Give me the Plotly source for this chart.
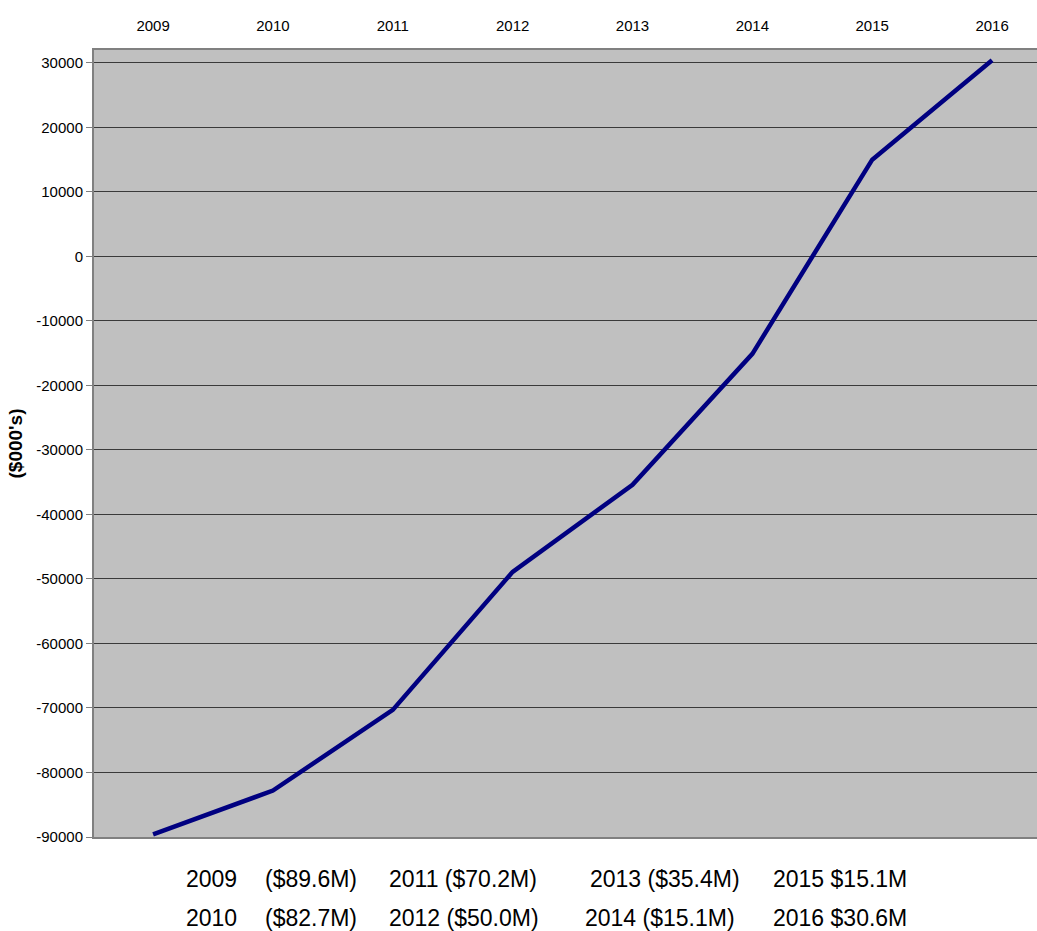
import plotly.graph_objects as go

years = ["2009", "2010", "2011", "2012", "2013", "2014", "2015", "2016"]
values = [-89600, -82800, -70300, -48900, -35400, -15100, 15000, 30400]
y_ticks = [30000, 20000, 10000, 0, -10000, -20000, -30000, -40000, -50000,
           -60000, -70000, -80000, -90000]

# bottom note text: (text, left-x pixel, row)
notes_row1 = [("2009", 184), ("($89.6M)", 263), ("2011 ($70.2M)", 387),
              ("2013 ($35.4M)", 588), ("2015 $15.1M", 771)]
notes_row2 = [("2010", 184), ("($82.7M)", 263), ("2012 ($50.0M)", 387),
              ("2014 ($15.1M)", 583), ("2016 $30.6M", 771)]

W, H = 1052, 931
ML, MR, MT, MB = 94, 0, 50, 94
PW = W - ML - MR
PH = H - MT - MB

fig = go.Figure()
fig.add_trace(go.Scatter(
    x=list(range(len(years))), y=values, mode="lines",
    line=dict(color="#000080", width=4.5),
    hoverinfo="skip", showlegend=False,
))

annotations = []
for row, py in ((notes_row1, 879), (notes_row2, 918)):
    for text, px in row:
        annotations.append(dict(
            text=text, xref="paper", yref="paper",
            x=(px - ML) / PW, y=(H - MB - py) / PH,
            xanchor="left", yanchor="middle", showarrow=False,
            font=dict(family="Liberation Sans, Arial, sans-serif", size=23, color="#000000"),
        ))

fig.update_layout(
    width=W, height=H,
    margin=dict(l=ML, r=MR, t=MT, b=MB),
    paper_bgcolor="#ffffff",
    plot_bgcolor="#c0c0c0",
    showlegend=False,
    annotations=annotations,
    font=dict(family="Liberation Sans, Arial, sans-serif", size=15, color="#000000"),
    xaxis=dict(
        side="top",
        tickvals=list(range(len(years))), ticktext=years,
        range=[-0.493, 7.5],
        showgrid=False, zeroline=False,
        showline=True, mirror=True, linecolor="#808080", linewidth=2,
        ticks="", ticklabelstandoff=11,
        tickfont=dict(size=15),
    ),
    yaxis=dict(
        range=[-90000, 32000],
        tickvals=y_ticks, ticktext=[str(v) for v in y_ticks],
        showgrid=True, gridcolor="#3a3a3a", gridwidth=1,
        zeroline=True, zerolinecolor="#3a3a3a", zerolinewidth=1,
        showline=True, linecolor="#808080", linewidth=2,
        ticks="outside", ticklen=6, tickcolor="#808080",
        tickfont=dict(size=15),
        title=dict(text="<b>($000's)</b>", standoff=9,
                   font=dict(family="Liberation Sans, Arial, sans-serif", size=19)),
    ),
)

fig.write_html(
    "out.html",
    config={"displayModeBar": False},
    post_script="document.body.style.margin='0';document.body.style.padding='0';document.body.style.overflow='hidden';",
)
